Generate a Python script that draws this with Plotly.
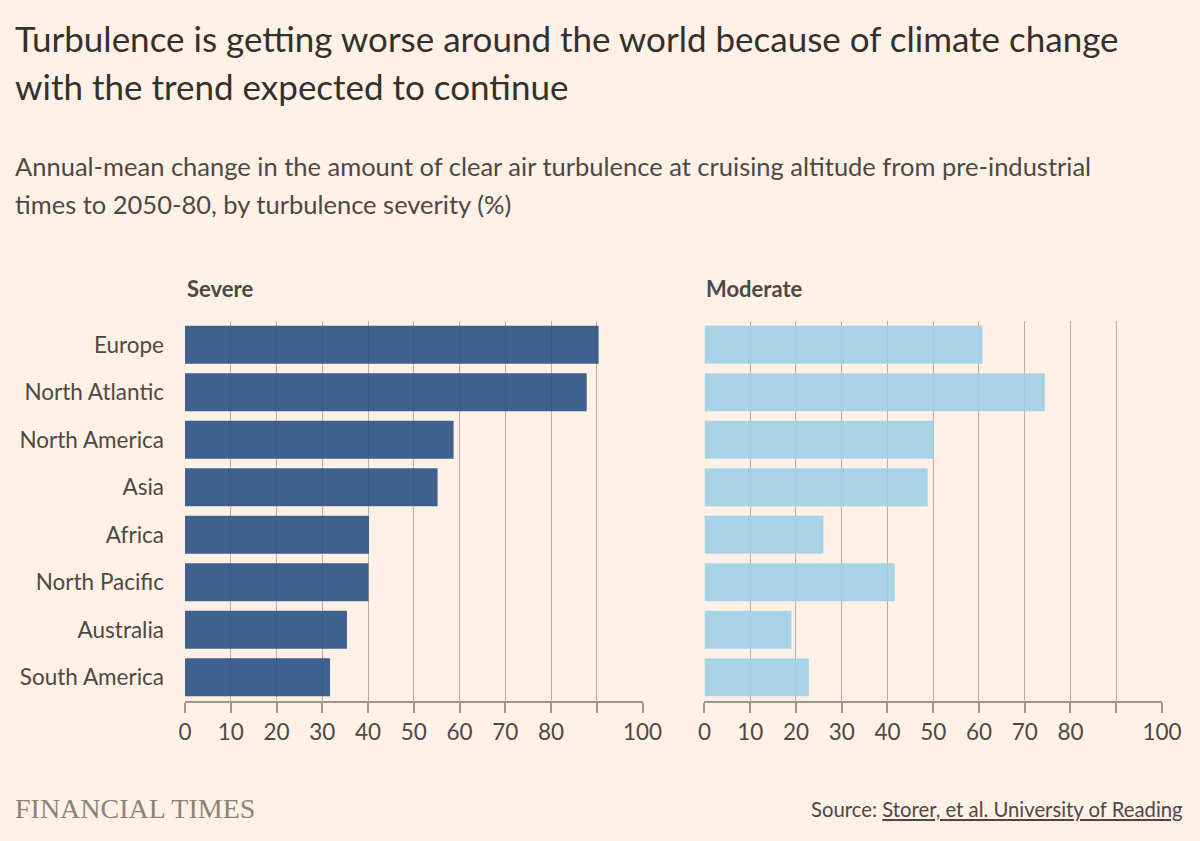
import plotly.graph_objects as go
from plotly.subplots import make_subplots

regions = ['Europe', 'North Atlantic', 'North America', 'Asia', 'Africa',
           'North Pacific', 'Australia', 'South America']
severe = [90.4, 87.8, 58.7, 55.2, 40.2, 40.1, 35.4, 31.7]
moderate = [60.8, 74.4, 50.1, 48.8, 26.0, 41.6, 19.0, 22.8]

tick_vals = [0, 10, 20, 30, 40, 50, 60, 70, 80, 90, 100]
tick_text = ['0', '10', '20', '30', '40', '50', '60', '70', '80', '', '100']

bg = '#FFF1E5'
grid = '#b9afa6'
txt = '#33302e'
txt2 = '#4d4845'
font = 'Lato'

# plot area in pixels: left 185, right 1162, top 321, bottom 701
def py(px):
    return (701 - px) / 380

def px_(p):
    return (p - 185) / 977

fig = make_subplots(rows=1, cols=2, shared_yaxes=True, horizontal_spacing=0.0634)

fig.add_trace(go.Bar(
    y=regions, x=severe, orientation='h', name='Severe',
    marker=dict(color='rgba(43,80,132,0.9)', line=dict(width=0))
), row=1, col=1)

fig.add_trace(go.Bar(
    y=regions, x=moderate, orientation='h', name='Moderate',
    marker=dict(color='rgba(158,207,230,0.9)', line=dict(width=0))
), row=1, col=2)

for c in (1, 2):
    fig.update_xaxes(
        range=[0, 100], tickvals=tick_vals, ticktext=tick_text,
        showgrid=True, gridcolor=grid, gridwidth=1,
        showline=True, linecolor='#9e958d', linewidth=1.5,
        ticks='outside', ticklen=10, tickcolor='#9e958d', tickwidth=1.5,
        tickfont=dict(size=22.5, color=txt2, family=font),
        zeroline=False, fixedrange=True,
        row=1, col=c
    )

fig.update_yaxes(
    categoryorder='array', categoryarray=regions, autorange=False,
    range=[7.5, -0.5], showgrid=False, zeroline=False,
    ticks='', ticklabelstandoff=20,
    tickfont=dict(size=22.5, color=txt2, family=font),
    row=1, col=1
)
fig.update_yaxes(showticklabels=False, showgrid=False, zeroline=False,
                 range=[7.5, -0.5], row=1, col=2)

for ref, label in (('x domain', 'Severe'), ('x2 domain', 'Moderate')):
    fig.add_annotation(text=f'<b>{label}</b>', xref=ref, yref='paper',
                       x=0, y=py(288), xanchor='left', yanchor='middle',
                       showarrow=False, font=dict(size=22, color=txt2, family=font))

# title and subtitle, one annotation per line
lines = [
    ('Turbulence is getting worse around the world because of climate change', 38, 35, txt),
    ('with the trend expected to continue', 86, 35, txt),
    ('Annual-mean change in the amount of clear air turbulence at cruising altitude from pre-industrial', 166, 25.5, txt2),
    ('times to 2050-80, by turbulence severity (%)', 204, 25.5, txt2),
]
for text, ypx, size, col in lines:
    fig.add_annotation(
        text=text, xref='paper', yref='paper', x=px_(13), y=py(ypx),
        xanchor='left', yanchor='middle', showarrow=False,
        font=dict(size=size, color=col, family=font)
    )

fig.add_annotation(
    text='FINANCIAL TIMES', xref='paper', yref='paper',
    x=px_(13), y=py(808), xanchor='left', yanchor='middle',
    showarrow=False, font=dict(size=28, color='#8a827b', family='Liberation Serif')
)
fig.add_annotation(
    text='Source: <u>Storer, et al. University of Reading</u>', xref='paper', yref='paper',
    x=px_(1185), y=py(809), xanchor='right', yanchor='middle',
    showarrow=False, font=dict(size=20.3, color=txt2, family=font)
)

fig.update_layout(
    width=1200, height=841,
    paper_bgcolor=bg, plot_bgcolor=bg,
    showlegend=False, bargap=0.2,
    margin=dict(l=185, r=38, t=321, b=140),
)

fig.write_html('out.html', config={'displayModeBar': False},
               post_script="document.body.style.margin='0';")
